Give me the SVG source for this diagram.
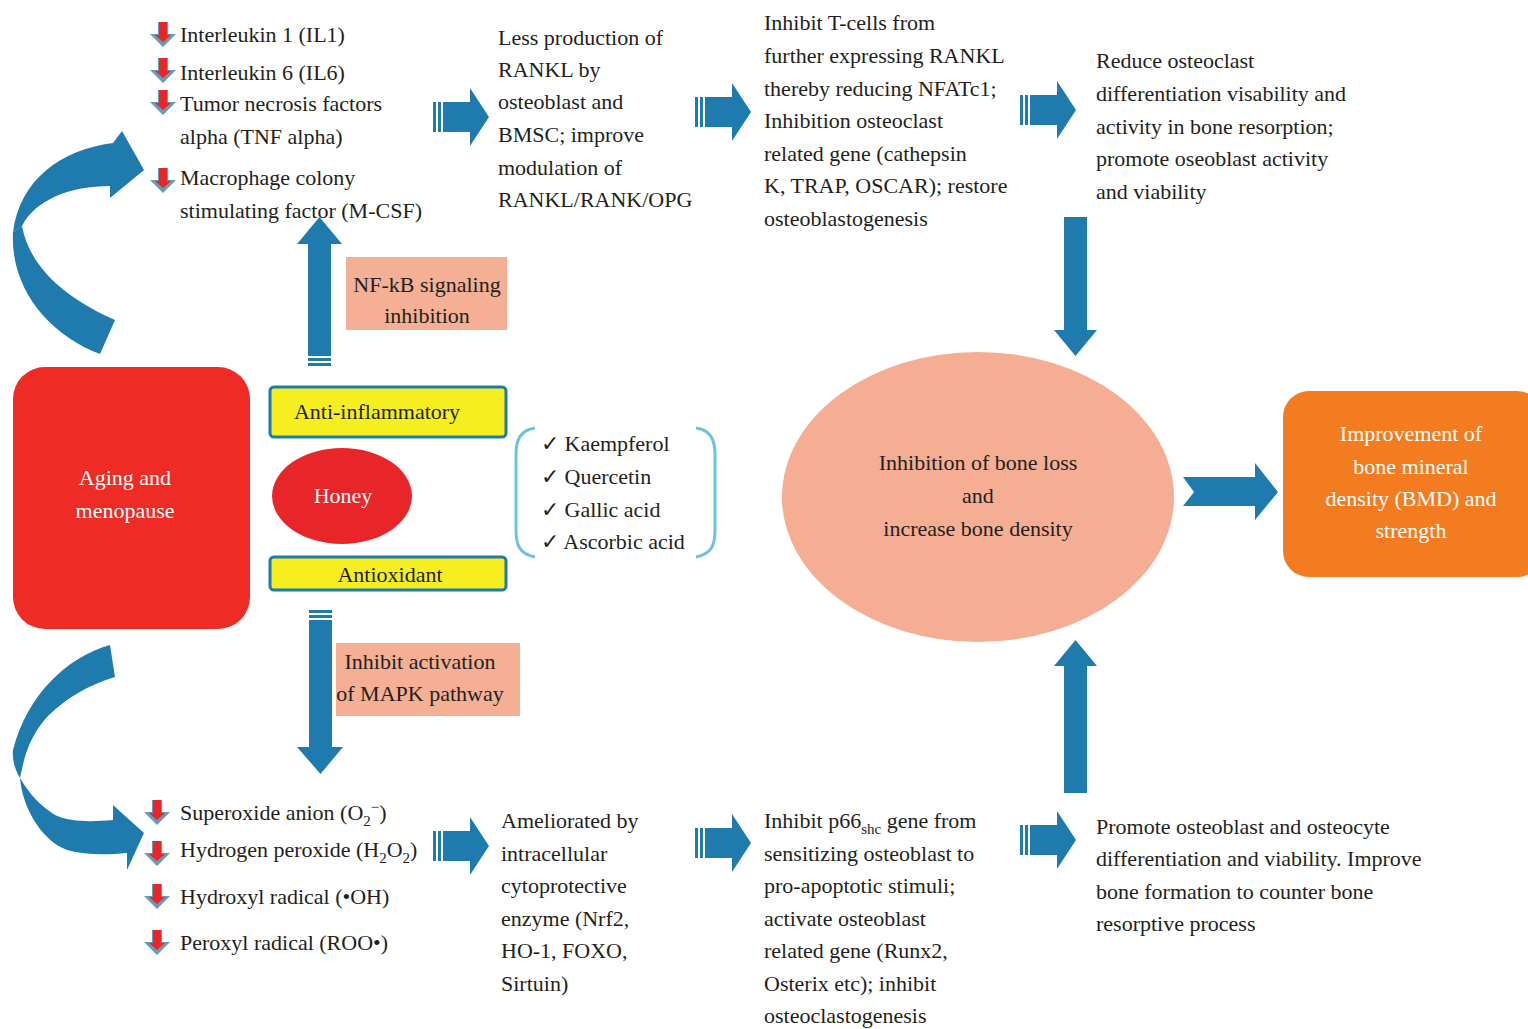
<svg xmlns="http://www.w3.org/2000/svg" xmlns:xlink="http://www.w3.org/1999/xlink" width="1528" height="1029" viewBox="0 0 1528 1029">
<style>
text{font-family:"Liberation Serif","DejaVu Serif",serif;font-size:22px;fill:#231f20}
.w{fill:#ffffff}
.c{text-anchor:middle}
.blue{fill:#1f7bad}
.sub{font-size:15px}
</style>
<defs>
<g id="dn">
<path d="M-5,0 H5 V12 H13 L0,25 L-13,12 H-5 Z" fill="#6a9bb5"/>
<path d="M-4,0 H4 V13 H8 L0,20 L-8,13 H-4 Z" fill="#e8262a"/>
</g>
<g id="harrow">
<rect x="0" y="-15" width="3" height="30" fill="#1f7bad"/>
<rect x="5" y="-15" width="3" height="30" fill="#1f7bad"/>
<path d="M10,-15 H37 V-29 L56,0 L37,29 V15 H10 Z" fill="#1f7bad"/>
</g>
</defs>
<rect width="1528" height="1029" fill="#ffffff"/>

<g id="connectors">
<!-- curved arrows -->
<path d="M13,232 C20,180 60,150 113,143 L122,131 L144,170 L110,198 L110,186 C70,186 35,200 22,226 Z" class="blue"/>
<path d="M13,232 C10,290 50,335 100,354 L115,320 C70,300 30,270 22,226 Z" class="blue"/>
<path d="M110,645 C67,657 27,695 13,750 C12,760 15,770 20,778 C24,760 27,740 47,717 C70,695 90,685 115,677 Z" class="blue"/>
<path d="M20,778 C22,805 40,840 67,850 C85,855 105,855 127,853 L127,870 L144,833 L113,805 L113,820 C90,822 70,822 55,815 C40,805 30,795 20,778 Z" class="blue"/>
<!-- vertical arrows from honey -->
<rect x="308" y="358" width="23" height="3" class="blue"/>
<rect x="308" y="363" width="23" height="3" class="blue"/>
<path d="M308,356 V244 H297 L319.5,217 L342,244 H331 V356 Z" class="blue"/>
<rect x="309" y="610" width="23" height="3" class="blue"/>
<rect x="309" y="615" width="23" height="3" class="blue"/>
<path d="M309,620 V747 H297 L320.5,774 L343,747 H332 V620 Z" class="blue"/>
<!-- horizontal flow arrows -->
<use xlink:href="#harrow" transform="translate(433,117)"/>
<use xlink:href="#harrow" transform="translate(695,112)"/>
<use xlink:href="#harrow" transform="translate(1020,110)"/>
<use xlink:href="#harrow" transform="translate(433,846)"/>
<use xlink:href="#harrow" transform="translate(695,843)"/>
<use xlink:href="#harrow" transform="translate(1020,840)"/>
<!-- down arrow into ellipse -->
<path d="M1064,217 V330 H1054 L1075.5,356 L1097,330 H1087 V217 Z" class="blue"/>
<!-- up arrow into ellipse -->
<path d="M1064,793 V666 H1054 L1075.5,640 L1097,666 H1087 V793 Z" class="blue"/>
<!-- arrow to BMD -->
<path d="M1183,477 H1255 V463 L1278,492 L1255,520 V506 H1183 L1194,492 Z" class="blue"/>
</g>

<g id="cytokines">
<use xlink:href="#dn" transform="translate(163,22)"/>
<use xlink:href="#dn" transform="translate(163,58)"/>
<use xlink:href="#dn" transform="translate(163,90)"/>
<use xlink:href="#dn" transform="translate(163,168)"/>
<text x="180" y="42">Interleukin 1 (IL1)</text>
<text x="180" y="80">Interleukin 6 (IL6)</text>
<text x="180" y="111">Tumor necrosis factors</text>
<text x="180" y="144">alpha (TNF alpha)</text>
<text x="180" y="185">Macrophage colony</text>
<text x="180" y="218">stimulating factor (M-CSF)</text>
</g>

<g id="rankl">
<text x="498" y="45">Less production of</text>
<text x="498" y="77">RANKL by</text>
<text x="498" y="109">osteoblast and</text>
<text x="498" y="142">BMSC; improve</text>
<text x="498" y="175">modulation of</text>
<text x="498" y="207">RANKL/RANK/OPG</text>
</g>

<g id="tcells">
<text x="764" y="30">Inhibit T-cells from</text>
<text x="764" y="63">further expressing RANKL</text>
<text x="764" y="96">thereby reducing NFATc1;</text>
<text x="764" y="128">Inhibition osteoclast</text>
<text x="764" y="161">related gene (cathepsin</text>
<text x="764" y="193">K, TRAP, OSCAR); restore</text>
<text x="764" y="226">osteoblastogenesis</text>
</g>

<g id="reduce">
<text x="1096" y="68">Reduce osteoclast</text>
<text x="1096" y="101">differentiation visability and</text>
<text x="1096" y="134">activity in bone resorption;</text>
<text x="1096" y="166">promote oseoblast activity</text>
<text x="1096" y="199">and viability</text>
</g>

<g id="nfkb">
<rect x="346" y="257" width="161" height="73" fill="#f5af94"/>
<text x="427" y="292" class="c">NF-kB signaling</text>
<text x="427" y="323" class="c">inhibition</text>
</g>

<g id="aging">
<rect x="13" y="367" width="237" height="262" rx="32" fill="#ee2b24"/>
<text x="125" y="485" class="c w">Aging and</text>
<text x="125" y="518" class="c w">menopause</text>
</g>

<g id="antiinflammatory">
<rect x="270" y="387" width="236" height="50" rx="4" fill="#f6ef1f" stroke="#1f7bad" stroke-width="3"/>
<text x="377" y="419" class="c">Anti-inflammatory</text>
</g>

<g id="honey">
<ellipse cx="342" cy="496" rx="70" ry="48" fill="#e8262a"/>
<text x="343" y="503" class="c w">Honey</text>
</g>

<g id="antioxidant">
<rect x="270" y="557" width="236" height="33" rx="4" fill="#f6ef1f" stroke="#1f7bad" stroke-width="3"/>
<text x="390" y="582" class="c">Antioxidant</text>
</g>

<g id="compounds">
<path d="M535,428 C520,430 516,440 516,455 V530 C516,546 520,554 535,557" fill="none" stroke="#6cc3dc" stroke-width="3"/>
<path d="M696,428 C711,430 715,440 715,455 V530 C715,546 711,554 696,557" fill="none" stroke="#6cc3dc" stroke-width="3"/>
<text x="541" y="451">✓ Kaempferol</text>
<text x="541" y="484">✓ Quercetin</text>
<text x="541" y="517">✓ Gallic acid</text>
<text x="541" y="549">✓ Ascorbic acid</text>
</g>

<g id="boneloss">
<ellipse cx="978" cy="497" rx="196" ry="145" fill="#f5ae93"/>
<text x="978" y="470" class="c">Inhibition of bone loss</text>
<text x="978" y="503" class="c">and</text>
<text x="978" y="536" class="c">increase bone density</text>
</g>

<g id="bmd">
<rect x="1283" y="391" width="260" height="186" rx="26" fill="#f47c20"/>
<text x="1411" y="441" class="c w">Improvement of</text>
<text x="1411" y="474" class="c w">bone mineral</text>
<text x="1411" y="506" class="c w">density (BMD) and</text>
<text x="1411" y="538" class="c w">strength</text>
</g>

<g id="mapk">
<rect x="336" y="643" width="184" height="73" fill="#f5af94"/>
<text x="420" y="669" class="c">Inhibit activation</text>
<text x="420" y="701" class="c">of MAPK pathway</text>
</g>

<g id="ros">
<use xlink:href="#dn" transform="translate(157,800)"/>
<use xlink:href="#dn" transform="translate(157,841)"/>
<use xlink:href="#dn" transform="translate(157,884)"/>
<use xlink:href="#dn" transform="translate(157,930)"/>
<text x="180" y="820">Superoxide anion (O<tspan class="sub" dy="6">2</tspan><tspan class="sub" dy="-14">−</tspan><tspan dy="8">)</tspan></text>
<text x="180" y="857">Hydrogen peroxide (H<tspan class="sub" dy="6">2</tspan><tspan dy="-6">O</tspan><tspan class="sub" dy="6">2</tspan><tspan dy="-6">)</tspan></text>
<text x="180" y="904">Hydroxyl radical (•OH)</text>
<text x="180" y="950">Peroxyl radical (ROO•)</text>
</g>

<g id="ameliorated">
<text x="501" y="828">Ameliorated by</text>
<text x="501" y="861">intracellular</text>
<text x="501" y="893">cytoprotective</text>
<text x="501" y="926">enzyme (Nrf2,</text>
<text x="501" y="958">HO-1, FOXO,</text>
<text x="501" y="991">Sirtuin)</text>
</g>

<g id="p66">
<text x="764" y="828">Inhibit p66<tspan class="sub" dy="6">shc</tspan><tspan dy="-6"> gene from</tspan></text>
<text x="764" y="861">sensitizing osteoblast to</text>
<text x="764" y="893">pro-apoptotic stimuli;</text>
<text x="764" y="926">activate osteoblast</text>
<text x="764" y="958">related gene (Runx2,</text>
<text x="764" y="991">Osterix etc); inhibit</text>
<text x="764" y="1023">osteoclastogenesis</text>
</g>

<g id="promote">
<text x="1096" y="834">Promote osteoblast and osteocyte</text>
<text x="1096" y="866">differentiation and viability. Improve</text>
<text x="1096" y="899">bone formation to counter bone</text>
<text x="1096" y="931">resorptive process</text>
</g>
</svg>
